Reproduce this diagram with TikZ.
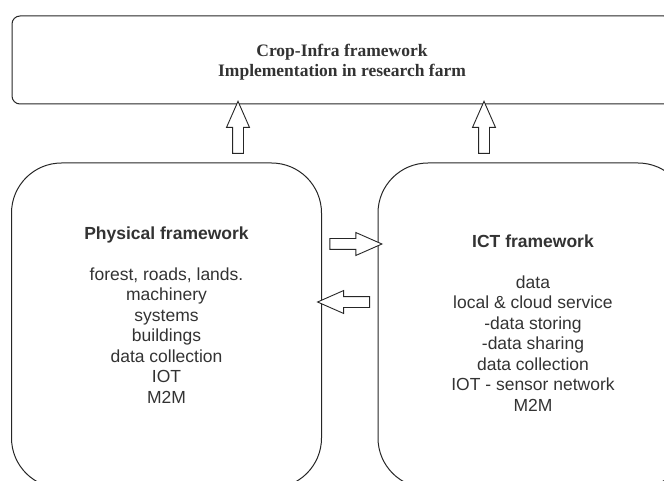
\documentclass[tikz,border=0pt]{standalone}
\usepackage{fontspec}
\setmainfont{Liberation Serif}
\setsansfont{Liberation Sans}
\usetikzlibrary{shapes.arrows}
\definecolor{txtgray}{HTML}{333333}
\begin{document}
\begin{tikzpicture}[x=1pt,y=-1pt,
  box/.style={draw=black!85,line width=1pt,rectangle,minimum width=310pt,minimum height=325pt,rounded corners=50pt,inner sep=0pt},
  fatarrow/.style={draw=black!85,line width=0.9pt,fill=white,single arrow,minimum height=52pt,minimum width=22pt,inner sep=5pt,outer sep=0pt,single arrow head extend=6pt,single arrow tip angle=47.5},
  lbl/.style={align=center,text=txtgray,font=\sffamily\fontsize{17.5}{20.5}\selectfont}]
\useasboundingbox (0,0) rectangle (664,481);
\node[draw=black!85,line width=1pt,rounded corners=8pt,minimum width=660pt,minimum height=88pt] (farm) at (342,60) {};
\node[box] (phys) at (166.5,325.5) {};
\node[box] (ict) at (533,325.5) {};
\node[align=center,text=txtgray,font=\bfseries\fontsize{17.5}{20}\selectfont] (farmlbl) at (342,62)
  {Crop-Infra framework\\Implementation in research farm};
\node[lbl] (physlbl) at (166.5,315) {\textbf{Physical framework}\\[20.5pt]
  forest, roads, lands.\\machinery\\systems\\buildings\\data collection\\IOT\\M2M};
\node[lbl] (ictlbl) at (533,323) {\textbf{ICT framework}\\[20.5pt]
  data\\local \& cloud service\\-data storing\\-data sharing\\data collection\\IOT - sensor network\\M2M};
% arrows between the frameworks
\coordinate (xL) at (238,0);
\coordinate (xR) at (484,0);
\coordinate (yA) at (0,244);
\coordinate (yB) at (0,302);
\path (phys.north -| xL) -- node[fatarrow,rotate=90] (upphys) {} (farm.south -| xL);
\path (ict.north -| xR) -- node[fatarrow,rotate=90] (upict) {} (farm.south -| xR);
\path (phys.east |- yA) -- node[fatarrow] (toict) {} (ict.west |- yA);
\path (ict.west |- yB) -- node[fatarrow,rotate=180] (tophys) {} (phys.east |- yB);
\end{tikzpicture}
\end{document}
